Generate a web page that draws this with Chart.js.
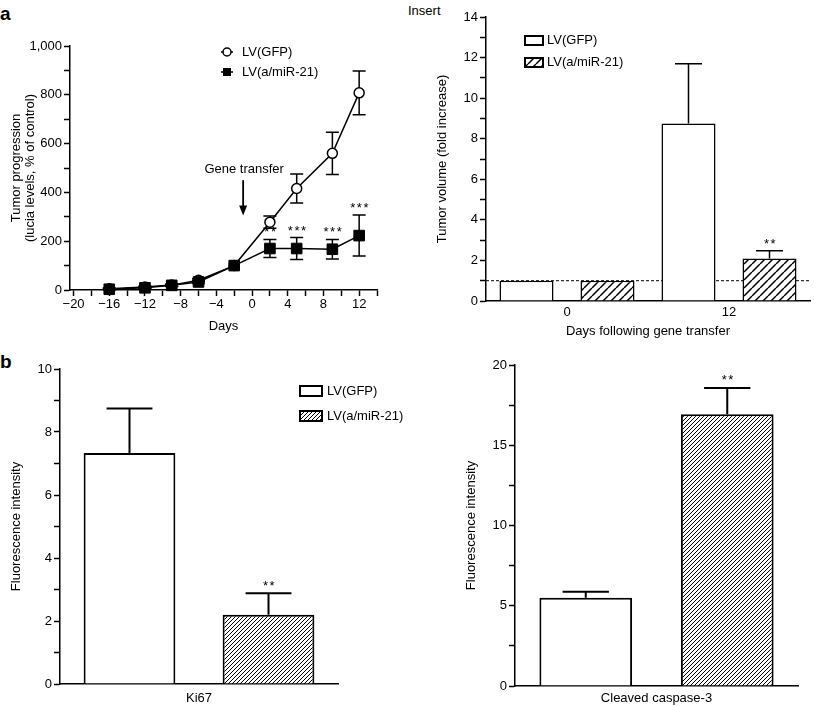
<!DOCTYPE html>
<html>
<head>
<meta charset="utf-8">
<script src="https://cdn.jsdelivr.net/npm/chart.js@4.4.0/dist/chart.umd.min.js"></script>
<style>
  body { margin: 0; background: #fff; }
  #fig { position: relative; width: 814px; height: 706px; font-family: 'Liberation Sans', Arial, sans-serif; color: #000; }
  #fig canvas { position: absolute; }
  .tag { position: absolute; font-weight: bold; font-size: 19px; line-height: 1; }
  .note { position: absolute; font-size: 13px; line-height: 1; }
</style>
</head>
<body>
<div id="fig">
  <div class="tag" style="left:0;top:4px">a</div>
  <div class="tag" style="left:0;top:352px">b</div>
  <div class="note" style="left:408px;top:4px">Insert</div>
  <canvas id="tumor" width="400" height="335" style="left:0;top:0"></canvas>
  <canvas id="insert" width="414" height="345" style="left:400px;top:0"></canvas>
  <canvas id="ki67" width="420" height="366" style="left:0;top:340px"></canvas>
  <canvas id="casp" width="394" height="366" style="left:420px;top:340px"></canvas>
</div>
<script>
// ---- data ----
const seriesNames = ['LV(GFP)', 'LV(a/miR-21)'];

// panel a: tumor progression over days
const days = [-16, -12, -9, -6, -2, 2, 5, 9, 12];
const gfpTumor = [5, 12, 20, 40, 100, 278, 416, 560, 808];
const gfpTumorErr = [3, 4, 5, 6, 0, 25, 59, 87, 90];
const mirTumor = [3, 9, 19, 33, 100, 170, 170, 167, 223];
const mirTumorErr = [3, 4, 5, 6, 0, 37, 45, 40, 84];
const mirTumorStars = ['', '', '', '', '', '**', '***', '***', '***'];
const dayTicks = [-20, -18, -16, -14, -12, -10, -8, -6, -4, -2, 0, 2, 4, 6, 8, 10, 12, 14];
const tumorTicks = [0, 100, 200, 300, 400, 500, 600, 700, 800, 900, 1000];
const geneTransferDay = -1;
const geneArrowFrom = 450, geneArrowTo = 305, geneLabelAt = 496;

// insert: tumor volume fold increase
const insertDays = ['0', '12'];
const gfpFold = [1, 8.75];
const gfpFoldErr = [0, 2.95];
const mirFold = [1, 2.1];
const mirFoldErr = [0, 0.38];
const mirFoldStars = ['', '**'];
const foldTicks = [0, 1, 2, 3, 4, 5, 6, 7, 8, 9, 10, 11, 12, 13, 14];
const foldBaseline = 1;

// panel b: Ki67
const ki67Label = ['Ki67'];
const gfpKi67 = [7.33];
const gfpKi67Err = [1.42];
const mirKi67 = [2.2];
const mirKi67Err = [0.68];
const mirKi67Stars = ['**'];
const ki67Ticks = [0, 1, 2, 3, 4, 5, 6, 7, 8, 9, 10];

// panel b: cleaved caspase-3
const caspLabel = ['Cleaved caspase-3'];
const gfpCasp = [5.5];
const gfpCaspErr = [0.38];
const mirCasp = [16.93];
const mirCaspErr = [1.64];
const mirCaspStars = ['**'];
const caspTicks = [0, 2.5, 5, 7.5, 10, 12.5, 15, 17.5, 20];

Chart.defaults.font.family = "'Liberation Sans', Arial, sans-serif";
Chart.defaults.font.size = 13;
Chart.defaults.color = '#000';
Chart.defaults.animation = false;
Chart.defaults.plugins.legend.display = false;
Chart.defaults.plugins.tooltip.enabled = false;

const minus = v => String(v).replace('-', '\u2212');

// diagonal hatch fill
function hatch(canvasId, step, lw) {
  const tile = document.createElement('canvas');
  tile.width = tile.height = step;
  const g = tile.getContext('2d');
  g.fillStyle = '#fff';
  g.fillRect(0, 0, step, step);
  g.strokeStyle = '#000';
  g.lineWidth = lw;
  g.beginPath();
  for (const o of [-step, 0, step]) {
    g.moveTo(o, step); g.lineTo(o + step, 0);
  }
  g.stroke();
  return document.getElementById(canvasId).getContext('2d').createPattern(tile, 'repeat');
}

// error bars + significance stars
const errorBars = {
  id: 'errorBars',
  beforeDatasetsDraw(chart, _a, o) { if (o.behind) drawErrors(chart, o); },
  afterDatasetsDraw(chart, _a, o) {
    if (!o.behind) drawErrors(chart, o);
    drawStars(chart, o);
  }
};
const valueOf = d => (typeof d === 'object' ? d.y : d);

function drawErrors(chart, o) {
  const ctx = chart.ctx, ys = chart.scales.y;
  ctx.save();
  ctx.strokeStyle = '#000';
  ctx.lineWidth = o.lineWidth;
  chart.data.datasets.forEach((ds, i) => {
    if (!ds.errs) return;
    chart.getDatasetMeta(i).data.forEach((el, j) => {
      const e = ds.errs[j];
      if (!e) return;
      const v = valueOf(ds.data[j]);
      const top = ys.getPixelForValue(v + e);
      const bot = o.both ? ys.getPixelForValue(v - e) : el.y;
      const half = o.cap ? o.cap / 2 : el.width / 4;
      ctx.beginPath();
      ctx.moveTo(el.x, bot); ctx.lineTo(el.x, top);
      ctx.moveTo(el.x - half, top); ctx.lineTo(el.x + half, top);
      if (o.both) { ctx.moveTo(el.x - half, bot); ctx.lineTo(el.x + half, bot); }
      ctx.stroke();
    });
  });
  ctx.restore();
}

function drawStars(chart, o) {
  const ctx = chart.ctx, ys = chart.scales.y;
  ctx.save();
  ctx.fillStyle = '#000';
  ctx.font = "13px 'Liberation Sans', Arial, sans-serif";
  ctx.letterSpacing = '1.5px';
  ctx.textAlign = 'center';
  ctx.textBaseline = 'alphabetic';
  chart.data.datasets.forEach((ds, i) => {
    if (!ds.stars) return;
    chart.getDatasetMeta(i).data.forEach((el, j) => {
      if (!ds.stars[j]) return;
      const v = valueOf(ds.data[j]) + (ds.errs ? ds.errs[j] : 0);
      ctx.fillText(ds.stars[j], el.x + 1, ys.getPixelForValue(v) - o.starGap);
    });
  });
  ctx.restore();
}

// legend drawn inside the plot
const keyBox = {
  id: 'keyBox',
  afterDraw(chart, _a, o) {
    const ctx = chart.ctx, a = chart.chartArea;
    ctx.save();
    ctx.font = "13px 'Liberation Sans', Arial, sans-serif";
    ctx.textBaseline = 'middle';
    ctx.fillStyle = '#000';
    chart.data.datasets.forEach((ds, i) => {
      const x = a.left + o.x, y = a.top + o.y + i * o.gap;
      ctx.strokeStyle = '#000';
      if (o.kind === 'line') {
        ctx.lineWidth = 1.5;
        ctx.beginPath(); ctx.moveTo(x - 6, y); ctx.lineTo(x + 6, y); ctx.stroke();
        if (ds.pointStyle === 'circle') {
          ctx.beginPath(); ctx.arc(x, y, 4, 0, Math.PI * 2);
          ctx.fillStyle = '#fff'; ctx.fill(); ctx.stroke();
        } else {
          ctx.fillStyle = '#000'; ctx.fillRect(x - 4, y - 4, 8, 8);
        }
      } else {
        ctx.lineWidth = 2;
        ctx.fillStyle = ds.backgroundColor;
        ctx.fillRect(x, y - o.h / 2, o.w, o.h);
        ctx.strokeRect(x, y - o.h / 2, o.w, o.h);
      }
      ctx.fillStyle = '#000';
      ctx.fillText(ds.label, x + o.textDx, y);
    });
    ctx.restore();
  }
};

// "Gene transfer" arrow
const geneArrow = {
  id: 'geneArrow',
  afterDatasetsDraw(chart) {
    const { ctx, scales: { x, y } } = chart;
    const px = x.getPixelForValue(geneTransferDay);
    const y0 = y.getPixelForValue(geneArrowFrom), y1 = y.getPixelForValue(geneArrowTo);
    ctx.save();
    ctx.strokeStyle = '#000'; ctx.fillStyle = '#000'; ctx.lineWidth = 1.8;
    ctx.beginPath(); ctx.moveTo(px, y0); ctx.lineTo(px, y1 - 8); ctx.stroke();
    ctx.beginPath(); ctx.moveTo(px - 4, y1 - 10); ctx.lineTo(px + 4, y1 - 10); ctx.lineTo(px, y1); ctx.closePath(); ctx.fill();
    ctx.font = "13px 'Liberation Sans', Arial, sans-serif";
    ctx.textAlign = 'center'; ctx.textBaseline = 'middle';
    ctx.fillText('Gene transfer', px + 1, y.getPixelForValue(geneLabelAt));
    ctx.restore();
  }
};

// dotted fold = 1 reference
const baseline = {
  id: 'baseline',
  beforeDatasetsDraw(chart) {
    const { ctx, chartArea: a, scales: { y } } = chart;
    const py = y.getPixelForValue(foldBaseline);
    ctx.save();
    ctx.strokeStyle = '#000'; ctx.lineWidth = 1; ctx.setLineDash([3, 2]);
    ctx.beginPath(); ctx.moveTo(a.left, py); ctx.lineTo(a.right, py); ctx.stroke();
    ctx.restore();
  }
};

const axisLine = { display: true, color: '#000', width: 1.5 };
const tickGrid = { display: true, drawOnChartArea: false, drawTicks: true, tickLength: 6, tickColor: '#000', tickWidth: 1.5 };

function valueAxis(vals, labelEvery, min, max, width, titleText, titlePad, fmt) {
  return {
    type: 'linear', min, max,
    afterBuildTicks: s => { s.ticks = vals.map(v => ({ value: v })); },
    afterFit: s => { s.width = width; },
    ticks: { autoSkip: false, padding: 2, callback: v => (v % labelEvery === 0 ? (fmt ? fmt(v) : v) : '') },
    grid: tickGrid,
    border: axisLine,
    title: { display: true, text: titleText, padding: { top: titlePad, bottom: 0 }, font: { size: 13, lineHeight: 1.1 } }
  };
}

function categoryAxis(height, pad, titleText) {
  return {
    type: 'category',
    afterFit: s => { s.height = height; },
    ticks: { padding: pad, maxRotation: 0 },
    grid: { display: false, drawTicks: false },
    border: axisLine,
    title: titleText ? { display: true, text: titleText, padding: { top: 0, bottom: 6 } } : { display: false }
  };
}

// ---- panel a ----
new Chart(document.getElementById('tumor'), {
  type: 'line',
  data: {
    datasets: [
      {
        label: seriesNames[0], data: days.map((d, i) => ({ x: d, y: gfpTumor[i] })), errs: gfpTumorErr,
        borderColor: '#000', borderWidth: 1.5, tension: 0, clip: false, order: 1,
        pointStyle: 'circle', pointRadius: 5, pointBackgroundColor: '#fff', pointBorderColor: '#000', pointBorderWidth: 1.5
      },
      {
        label: seriesNames[1], data: days.map((d, i) => ({ x: d, y: mirTumor[i] })), errs: mirTumorErr, stars: mirTumorStars,
        borderColor: '#000', borderWidth: 1.5, tension: 0, clip: false, order: 0,
        pointStyle: 'rect', pointRadius: 7.5, pointBackgroundColor: '#000', pointBorderColor: '#000', pointBorderWidth: 1
      }
    ]
  },
  options: {
    responsive: false,
    layout: { padding: { top: 46, right: 23, left: 0, bottom: 0 } },
    scales: {
      x: {
        type: 'linear', min: -20.4, max: 14,
        afterBuildTicks: s => { s.ticks = dayTicks.map(v => ({ value: v })); },
        afterFit: s => { s.height = 45; },
        ticks: { autoSkip: false, maxRotation: 0, padding: 1, callback: v => (v % 4 === 0 ? minus(v) : '') },
        grid: tickGrid,
        border: axisLine,
        title: { display: true, text: 'Days', padding: { top: 0, bottom: 1 } }
      },
      y: valueAxis(tumorTicks, 200, 0, 1000, 70, ['Tumor progression', '(lucia levels, % of control)'], 9,
        v => v.toLocaleString('en-US'))
    },
    plugins: {
      errorBars: { behind: true, both: true, cap: 13, lineWidth: 1.5, starGap: 3 },
      keyBox: { kind: 'line', x: 157, y: 6, gap: 20, textDx: 15 }
    }
  },
  plugins: [errorBars, keyBox, geneArrow]
});

// ---- insert ----
new Chart(document.getElementById('insert'), {
  type: 'bar',
  data: {
    labels: insertDays,
    datasets: [
      { label: seriesNames[0], data: gfpFold, errs: gfpFoldErr, backgroundColor: '#fff', borderColor: '#000', borderWidth: 1.5 },
      { label: seriesNames[1], data: mirFold, errs: mirFoldErr, stars: mirFoldStars, backgroundColor: hatch('insert', 8, 1.5), borderColor: '#000', borderWidth: 1.5 }
    ]
  },
  options: {
    responsive: false,
    layout: { padding: { top: 17, right: 4, left: 0, bottom: 0 } },
    datasets: { bar: { categoryPercentage: 1, barPercentage: 0.667 } },
    scales: {
      x: categoryAxis(44, 4, 'Days following gene transfer'),
      y: valueAxis(foldTicks, 2, 0, 14, 86, 'Tumor volume (fold increase)', 35)
    },
    plugins: {
      errorBars: { behind: false, both: false, lineWidth: 1.5, starGap: 3 },
      keyBox: { kind: 'box', x: 39, y: 23.5, gap: 22, w: 18, h: 9, textDx: 22 }
    }
  },
  plugins: [baseline, errorBars, keyBox]
});

// ---- Ki67 ----
new Chart(document.getElementById('ki67'), {
  type: 'bar',
  data: {
    labels: ki67Label,
    datasets: [
      { label: seriesNames[0], data: gfpKi67, errs: gfpKi67Err, backgroundColor: '#fff', borderColor: '#000', borderWidth: 2 },
      { label: seriesNames[1], data: mirKi67, errs: mirKi67Err, stars: mirKi67Stars, backgroundColor: hatch('ki67', 4, 1), borderColor: '#000', borderWidth: 2 }
    ]
  },
  options: {
    responsive: false,
    layout: { padding: { top: 29, right: 82, left: 0, bottom: 0 } },
    datasets: { bar: { categoryPercentage: 1, barPercentage: 0.66 } },
    scales: {
      x: categoryAxis(22, 7),
      y: valueAxis(ki67Ticks, 2, 0, 10, 60, 'Fluorescence intensity', 9)
    },
    plugins: {
      errorBars: { behind: false, both: false, lineWidth: 2, starGap: 3 },
      keyBox: { kind: 'box', x: 240, y: 22, gap: 25, w: 22, h: 10, textDx: 27 }
    }
  },
  plugins: [errorBars, keyBox]
});

// ---- cleaved caspase-3 ----
new Chart(document.getElementById('casp'), {
  type: 'bar',
  data: {
    labels: caspLabel,
    datasets: [
      { label: seriesNames[0], data: gfpCasp, errs: gfpCaspErr, backgroundColor: '#fff', borderColor: '#000', borderWidth: 2 },
      { label: seriesNames[1], data: mirCasp, errs: mirCaspErr, stars: mirCaspStars, backgroundColor: hatch('casp', 4, 1), borderColor: '#000', borderWidth: 2 }
    ]
  },
  options: {
    responsive: false,
    layout: { padding: { top: 25, right: 16, left: 0, bottom: 0 } },
    datasets: { bar: { categoryPercentage: 1, barPercentage: 0.655 } },
    scales: {
      x: categoryAxis(20, 5),
      y: valueAxis(caspTicks, 5, 0, 20, 95, 'Fluorescence intensity', 44)
    },
    plugins: {
      errorBars: { behind: false, both: false, lineWidth: 2, starGap: 4 }
    }
  },
  plugins: [errorBars]
});
</script>
</body>
</html>
